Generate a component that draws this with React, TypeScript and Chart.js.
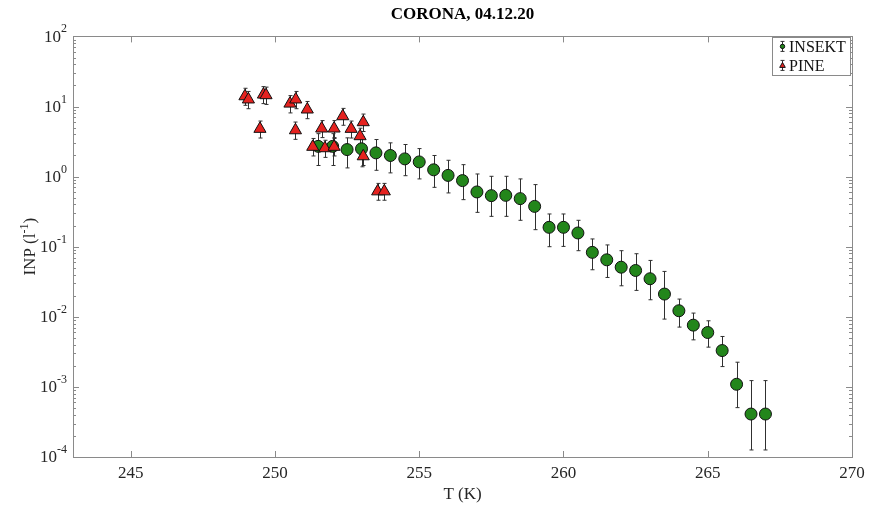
import React, { useEffect, useRef } from 'react';
import { Chart, registerables } from 'chart.js';

Chart.register(...registerables);

const TITLE = 'CORONA, 04.12.20';
const X_LABEL = 'T (K)';
const Y_LABEL_BASE = 'INP (l';
const Y_LABEL_SUP = '-1';
const Y_LABEL_END = ')';
const LEGEND_LABELS = ['INSEKT', 'PINE'];

const xTickValues = [245, 250, 255, 260, 265, 270];
const yDecadeExponents = [-4, -3, -2, -1, 0, 1, 2];
const yMinorFactors = [2, 3, 4, 5, 6, 7, 8, 9];

const insektT = [251.5, 252, 252.5, 253, 253.5, 254, 254.5, 255, 255.5, 256, 256.5, 257, 257.5, 258, 258.5, 259, 259.5, 260, 260.5, 261, 261.5, 262, 262.5, 263, 263.5, 264, 264.5, 265, 265.5, 266, 266.5, 267];
const insektINP = [2.7, 2.7, 2.43, 2.49, 2.18, 2.0, 1.79, 1.62, 1.25, 1.04, 0.877, 0.604, 0.535, 0.54, 0.485, 0.376, 0.189, 0.189, 0.157, 0.083, 0.065, 0.051, 0.0458, 0.0349, 0.0211, 0.0122, 0.0076, 0.00597, 0.0033, 0.00109, 0.00041, 0.00041];
const insektHigh = [4.1, 4.1, 3.57, 3.73, 3.38, 3.03, 2.87, 2.51, 2.0, 1.71, 1.48, 1.09, 1.01, 1.01, 0.927, 0.769, 0.293, 0.293, 0.238, 0.129, 0.106, 0.0877, 0.0794, 0.0637, 0.0444, 0.0179, 0.0113, 0.00877, 0.00524, 0.00225, 0.00123, 0.00123];
const insektLow = [1.44, 1.44, 1.33, 1.38, 1.23, 1.13, 1.03, 0.927, 0.703, 0.585, 0.469, 0.309, 0.271, 0.271, 0.238, 0.175, 0.1, 0.101, 0.0877, 0.0469, 0.0364, 0.0277, 0.0238, 0.0175, 0.00927, 0.00713, 0.00469, 0.00369, 0.00195, 0.000506, 0.000126, 0.000126];

const pineT = [248.96, 249.08, 249.6, 249.69, 250.52, 250.72, 251.12, 249.48, 250.71, 252.35, 251.62, 252.05, 252.64, 253.06, 252.95, 251.31, 251.73, 252.05, 253.06, 253.56, 253.79];
const pineINP = [14.0, 12.6, 14.8, 14.5, 11.0, 12.6, 9.06, 4.8, 4.58, 7.26, 4.85, 4.85, 4.8, 5.97, 3.77, 2.66, 2.54, 2.66, 1.95, 0.616, 0.616];
const pineLow = [10.4, 9.3, 11.0, 10.7, 8.1, 9.3, 6.7, 3.55, 3.4, 5.4, 3.6, 3.6, 3.55, 4.4, 2.8, 1.97, 1.88, 1.97, 1.44, 0.46, 0.46];
const pineHigh = [18.2, 16.4, 19.2, 18.9, 14.3, 16.4, 11.8, 6.2, 6.0, 9.4, 6.3, 6.3, 6.2, 7.8, 4.9, 3.5, 3.3, 3.5, 2.5, 0.8, 0.8];

const SERIF = '"Liberation Serif", "Times New Roman", serif';
const GREEN = '#23861b';
const RED = '#e5221f';
const AXIS = '#8a8a8a';
const TEXT = '#262626';

export default function App() {
  const ref = useRef<HTMLCanvasElement>(null);

  useEffect(() => {
    const canvas = ref.current as HTMLCanvasElement;

    const drawBars = (chart: any, xs: number[], lo: number[], hi: number[]) => {
      const ctx = chart.ctx;
      const xs_ = chart.scales.x;
      const ys_ = chart.scales.y;
      ctx.save();
      ctx.strokeStyle = '#303030';
      ctx.lineWidth = 1;
      ctx.beginPath();
      for (let i = 0; i < xs.length; i++) {
        const px = Math.round(xs_.getPixelForValue(xs[i])) + 0.5;
        const yl = ys_.getPixelForValue(lo[i]);
        const yh = ys_.getPixelForValue(hi[i]);
        ctx.moveTo(px, yh);
        ctx.lineTo(px, yl);
        ctx.moveTo(px - 2, yh);
        ctx.lineTo(px + 2, yh);
        ctx.moveTo(px - 2, yl);
        ctx.lineTo(px + 2, yl);
      }
      ctx.stroke();
      ctx.restore();
    };

    const plugin = {
      id: 'matlabStyle',
      beforeDatasetsDraw(chart: any) {
        drawBars(chart, insektT, insektLow, insektHigh);
        drawBars(chart, pineT, pineLow, pineHigh);
      },
      afterDatasetsDraw(chart: any) {
        const ctx = chart.ctx;
        const { left, right, top, bottom } = chart.chartArea;
        const xs = chart.scales.x;
        const ys = chart.scales.y;
        ctx.save();
        ctx.strokeStyle = AXIS;
        ctx.lineWidth = 1;
        ctx.strokeRect(Math.round(left) + 0.5, Math.round(top) + 0.5, Math.round(right - left), Math.round(bottom - top));
        ctx.beginPath();
        for (const v of xTickValues) {
          const px = Math.round(xs.getPixelForValue(v)) + 0.5;
          ctx.moveTo(px, bottom);
          ctx.lineTo(px, bottom - 6);
          ctx.moveTo(px, top);
          ctx.lineTo(px, top + 6);
        }
        for (const e of yDecadeExponents) {
          const py = Math.round(ys.getPixelForValue(Math.pow(10, e))) + 0.5;
          ctx.moveTo(left, py);
          ctx.lineTo(left + 6, py);
          ctx.moveTo(right, py);
          ctx.lineTo(right - 6, py);
          if (e < 2) {
            for (const f of yMinorFactors) {
              const pm = Math.round(ys.getPixelForValue(f * Math.pow(10, e))) + 0.5;
              ctx.moveTo(left, pm);
              ctx.lineTo(left + 3, pm);
              ctx.moveTo(right, pm);
              ctx.lineTo(right - 3, pm);
            }
          }
        }
        ctx.stroke();

        ctx.fillStyle = TEXT;
        for (const e of yDecadeExponents) {
          const py = ys.getPixelForValue(Math.pow(10, e));
          const sup = String(e);
          ctx.font = `12px ${SERIF}`;
          const wS = ctx.measureText(sup).width;
          ctx.font = `17px ${SERIF}`;
          const wB = ctx.measureText('10').width;
          const xEnd = left - 6;
          ctx.textAlign = 'left';
          ctx.textBaseline = 'middle';
          ctx.fillText('10', xEnd - wS - wB, py + 1);
          ctx.font = `12px ${SERIF}`;
          ctx.textBaseline = 'alphabetic';
          ctx.fillText(sup, xEnd - wS, py - 4);
        }

        ctx.save();
        ctx.translate(29, (top + bottom) / 2);
        ctx.rotate(-Math.PI / 2);
        ctx.font = `17px ${SERIF}`;
        const w1 = ctx.measureText(Y_LABEL_BASE).width;
        const w3 = ctx.measureText(Y_LABEL_END).width;
        ctx.font = `12px ${SERIF}`;
        const w2 = ctx.measureText(Y_LABEL_SUP).width;
        const total = w1 + w2 + w3;
        let cx = -total / 2;
        ctx.textAlign = 'left';
        ctx.textBaseline = 'alphabetic';
        ctx.font = `17px ${SERIF}`;
        ctx.fillText(Y_LABEL_BASE, cx, 6);
        cx += w1;
        ctx.font = `12px ${SERIF}`;
        ctx.fillText(Y_LABEL_SUP, cx, -1);
        cx += w2;
        ctx.font = `17px ${SERIF}`;
        ctx.fillText(Y_LABEL_END, cx, 6);
        ctx.restore();

        const bx = right - 80;
        const by = top + 1;
        const bw = 78;
        const bh = 38;
        ctx.fillStyle = '#ffffff';
        ctx.fillRect(bx, by, bw, bh);
        ctx.strokeStyle = AXIS;
        ctx.strokeRect(Math.round(bx) + 0.5, Math.round(by) + 0.5, bw, bh);
        const rows = [by + 9, by + 28];
        const colors = [GREEN, RED];
        rows.forEach((ry, i) => {
          const ix = Math.round(bx + 10) + 0.5;
          ctx.strokeStyle = '#303030';
          ctx.beginPath();
          ctx.moveTo(ix, ry - 5);
          ctx.lineTo(ix, ry + 5);
          ctx.moveTo(ix - 2, ry - 5);
          ctx.lineTo(ix + 2, ry - 5);
          ctx.moveTo(ix - 2, ry + 5);
          ctx.lineTo(ix + 2, ry + 5);
          ctx.stroke();
          ctx.fillStyle = colors[i];
          ctx.strokeStyle = '#111';
          ctx.beginPath();
          if (i === 0) {
            ctx.arc(ix, ry, 2.2, 0, Math.PI * 2);
          } else {
            ctx.moveTo(ix, ry - 3);
            ctx.lineTo(ix + 2.8, ry + 2);
            ctx.lineTo(ix - 2.8, ry + 2);
            ctx.closePath();
          }
          ctx.fill();
          ctx.stroke();
          ctx.fillStyle = '#111';
          ctx.font = `16px ${SERIF}`;
          ctx.textAlign = 'left';
          ctx.textBaseline = 'middle';
          ctx.fillText(LEGEND_LABELS[i], bx + 17, ry + 1);
        });
        ctx.restore();
      },
    };

    const chart = new Chart(canvas, {
      type: 'scatter',
      data: {
        datasets: [
          {
            label: LEGEND_LABELS[1],
            data: pineT.map((t, i) => ({ x: t, y: pineINP[i] })),
            pointStyle: 'triangle',
            pointRadius: 7,
            pointBackgroundColor: RED,
            pointBorderColor: '#111',
            pointBorderWidth: 1,
            order: 0,
          },
          {
            label: LEGEND_LABELS[0],
            data: insektT.map((t, i) => ({ x: t, y: insektINP[i] })),
            pointStyle: 'circle',
            pointRadius: 6,
            pointBackgroundColor: GREEN,
            pointBorderColor: '#111',
            pointBorderWidth: 1,
            order: 1,
          },
        ],
      },
      options: {
        responsive: false,
        animation: false,
        devicePixelRatio: 1,
        layout: { padding: { left: 0, right: 20, top: 0, bottom: 0 } },
        plugins: {
          legend: { display: false },
          tooltip: { enabled: false },
          title: {
            display: true,
            text: TITLE,
            fullSize: false,
            color: '#000',
            font: { family: SERIF, size: 17, weight: 'bold' },
            padding: { top: 4, bottom: 12 },
          },
        },
        scales: {
          x: {
            type: 'linear',
            min: 243,
            max: 270,
            grid: { display: false, drawTicks: false },
            border: { display: false },
            afterBuildTicks: (scale: any) => {
              scale.ticks = xTickValues.map((v) => ({ value: v }));
            },
            afterFit: (scale: any) => {
              scale.height = 50;
            },
            ticks: {
              color: TEXT,
              font: { family: SERIF, size: 17 },
              padding: 6,
              maxRotation: 0,
              autoSkip: false,
              callback: (v: any) => String(v),
            },
            title: {
              display: true,
              text: X_LABEL,
              color: TEXT,
              font: { family: SERIF, size: 17 },
              padding: { top: 0, bottom: 2 },
            },
          },
          y: {
            type: 'logarithmic',
            min: 1e-4,
            max: 1e2,
            grid: { display: false, drawTicks: false },
            border: { display: false },
            ticks: { display: false },
            afterFit: (scale: any) => {
              scale.width = 73;
            },
          },
        },
      },
      plugins: [plugin],
    } as any);

    return () => chart.destroy();
  }, []);

  return (
    <div style={{ position: 'fixed', left: 0, top: 0, width: 872, height: 507, background: '#fff' }}>
      <canvas ref={ref} width={872} height={507} style={{ width: 872, height: 507, display: 'block' }} />
    </div>
  );
}
